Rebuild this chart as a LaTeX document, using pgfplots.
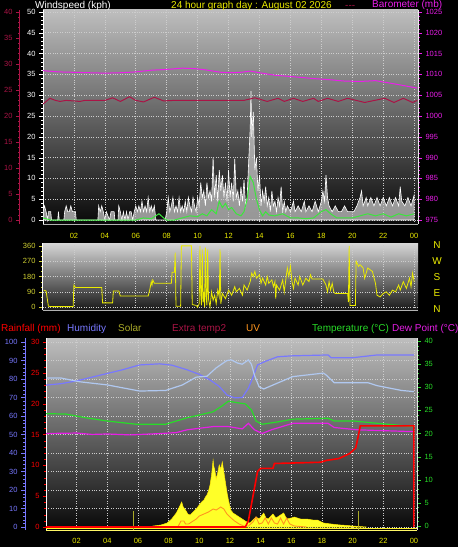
\documentclass[border=0pt]{standalone}
\usepackage{pgfplots}
\pgfplotsset{compat=1.18}
\usepackage{fontspec}
\setmainfont{Liberation Sans}
\definecolor{bgtop}{RGB}{190,190,190}
\definecolor{bgbot}{RGB}{8,8,8}
\definecolor{bgtopb}{RGB}{215,215,215}
\definecolor{bgbotb}{RGB}{25,25,25}
\definecolor{crim}{RGB}{170,20,70}
\definecolor{baro}{RGB}{235,30,235}
\definecolor{tyel}{RGB}{235,235,0}
\definecolor{tickyel}{RGB}{210,210,50}
\definecolor{humblue}{RGB}{120,120,255}
\definecolor{lblue}{RGB}{176,200,240}
\definecolor{tgreen}{RGB}{40,220,40}
\definecolor{dewmag}{RGB}{230,30,230}
\definecolor{solyel}{RGB}{255,255,40}
\definecolor{uvor}{RGB}{255,150,30}
\definecolor{olive2}{RGB}{170,170,40}
\definecolor{gridc}{RGB}{205,205,205}
\definecolor{windgr}{RGB}{60,230,60}

\pgfplotsset{
  base/.style={scale only axis, anchor=south west, xmin=0, xmax=24.25,
    /pgf/number format/assume math mode=true,
    /pgf/number format/1000 sep={},
    tick label style={font=\fontsize{7.5}{8}\selectfont},
    tick align=outside, major tick length=4pt, minor tick length=2pt},
  hidden/.style={base, hide axis},
  narrow/.style={base, width=1pt, xmin=0, xmax=1, axis x line=none, axis y line*=left},
}

\begin{document}
\begin{tikzpicture}
\fill[black] (0,0) rectangle (458pt,-547pt);
\path[use as bounding box] (0,0) rectangle (458pt,-547pt);

% ================= PANEL 1 =================
\begin{axis}[base, at={(43pt,-224pt)}, width=375pt, height=214pt,
  ymin=-0.96, ymax=50.48,
  axis background/.style={top color=bgtop, bottom color=bgbot},
  axis x line*=bottom, axis y line*=left,
  x axis line style={draw=gray!60, line width=1pt},
  y axis line style={draw=white, line width=1pt},
  xtick={2,4,...,24}, xticklabels={02,04,06,08,10,12,14,16,18,20,22,00},
  xticklabel style={text=tyel, yshift=-2pt}, x tick style={draw=none},
  ytick={0,5,...,50}, minor y tick num=4,
  yticklabel style={text=white}, y tick style={white},
  grid=major, grid style={draw=gridc, dotted, line width=0.6pt}]
% wind gusts
\addplot[draw=white, fill=gray!45!white, fill opacity=0.75, line width=0.6pt] coordinates {
(0,2)(0.1,3.4)(0.2,2)(0.3,0)(0.35,2)(0.5,2)(0.55,0)(0.95,0)(1.0,2)(1.05,0)(1.35,0)(1.4,2)(1.5,3.4)(1.6,2)(1.7,2)(1.8,3.4)(1.9,2)(2.1,2)(2.15,0)(3.55,0)(3.6,3.4)(3.7,2)(3.8,3.4)(3.9,2)(4.0,0)(4.1,2)(4.3,0)(4.4,2)(4.6,2)(4.65,0)(4.85,0)(4.9,3.4)(5.0,2)(5.1,0)(5.2,2)(5.3,0)(5.4,2)(5.5,0)(5.6,2)(5.7,2)(5.8,0)(5.9,2)(6.0,3.4)(6.1,2)(6.2,3.4)(6.3,2)(6.4,4.5)(6.5,2)(6.6,3.4)(6.7,2)(6.8,5.4)(6.9,2)(7.0,3.4)(7.1,2)(7.2,3.4)(7.3,0)(7.9,0)(8.0,2)(8.1,5.4)(8.2,2)(8.3,3.4)(8.4,5.4)(8.5,2)(8.6,3.4)(8.7,2)(8.8,5.4)(8.9,2)(9.0,3.4)(9.1,2)(9.2,4.5)(9.3,2)(9.4,5.4)(9.5,3.4)(9.6,2)(9.7,5.4)(9.8,3.4)(9.9,2)(10.0,5.4)(10.1,3.4)(10.2,9)(10.3,5.4)(10.4,7)(10.5,3.4)(10.6,9)(10.7,5.4)(10.8,7)(10.9,4.5)(11.0,15)(11.1,5.4)(11.2,10.8)(11.3,4.5)(11.4,12)(11.5,7)(11.6,10.8)(11.7,5.4)(11.8,9)(11.9,4.5)(12.0,12)(12.1,5.4)(12.2,9)(12.3,4.5)(12.4,14.7)(12.5,5.4)(12.6,7)(12.7,3.4)(12.8,8)(12.9,4.5)(13.0,9.6)(13.1,3.4)(13.2,5.4)(13.3,14)(13.4,22)(13.45,31)(13.5,20)(13.6,26)(13.7,12)(13.8,15)(13.9,7)(14.0,10.8)(14.1,3.4)(14.2,7)(14.3,4.5)(14.4,8)(14.5,3.4)(14.6,5.4)(14.7,2)(14.8,7)(14.9,3.4)(15.0,4.5)(15.1,2)(15.2,5.4)(15.3,3.4)(15.4,8)(15.5,2)(15.6,4.5)(15.7,2)(15.8,3.4)(16.0,2)(16.2,4.5)(16.3,2)(16.5,3.4)(16.7,2)(16.9,4.5)(17.0,2)(17.2,3.4)(17.4,2)(17.6,4.5)(17.8,2)(18.0,4.5)(18.1,7)(18.2,4.5)(18.3,10.8)(18.4,5.4)(18.5,3.4)(18.7,2)(18.9,3.4)(19.1,2)(19.3,2)(19.5,3.4)(19.7,2)(19.9,2)(20.1,2)(20.3,3.4)(20.5,5.4)(20.6,7)(20.7,3.4)(20.9,5.4)(21.0,3.4)(21.2,5.4)(21.4,3.4)(21.6,5.4)(21.8,3.4)(22.0,5.4)(22.2,3.4)(22.4,5.4)(22.6,3.4)(22.8,5.4)(23.0,3.4)(23.1,8)(23.2,4.5)(23.4,3.4)(23.6,5.4)(23.8,3.4)(24.0,6)(24.0,0)
} \closedcycle;
% average wind
\addplot[draw=windgr, line width=1pt] coordinates {
(0,0.5)(0.5,0)(6,0)(6.5,0.5)(7,0.3)(7.5,1.5)(7.8,0.5)(8.0,0)(8.5,0)(9,0.5)(9.5,1)(10,0.8)(10.3,1.5)(10.6,1)(10.9,2.5)(11.2,1.5)(11.4,4.5)(11.6,3)(11.8,4)(12.0,2.5)(12.2,3)(12.5,1.5)(12.8,1)(13.0,2)(13.2,5)(13.4,10.5)(13.6,9)(13.8,5)(14.0,2.5)(14.2,1)(14.4,2)(14.6,1.2)(15.0,1)(15.5,1.5)(16,0.5)(16.5,0.5)(17,0.3)(17.5,0.5)(18,2)(18.3,2.5)(18.6,1.5)(19,0.5)(20,0.5)(20.5,1)(21,1.5)(21.5,1)(22,1.5)(22.5,0.7)(23,1.5)(23.5,1)(24,1.5)
};
\end{axis}

% crimson outer axis (ticks only)
\begin{axis}[narrow, at={(20pt,-224pt)}, height=214pt, ymin=-0.77, ymax=40.38,
  y axis line style={draw=crim, line width=1pt},
  ytick={0,5,...,40}, minor y tick num=4, y tick style={crim}, yticklabel style={text=crim}]
\end{axis}
% crimson data
\begin{axis}[hidden, at={(43pt,-224pt)}, width=375pt, height=214pt, ymin=-0.77, ymax=40.38]
\addplot[draw=crim, line width=1pt] coordinates {
(0,22.3)(0.45,23.4)(0.8,23.0)(1.1,22.8)(1.5,23.0)(2.4,22.8)(2.7,23.0)(4.0,23.0)(4.5,23.5)(5.0,22.8)(5.6,23.7)(6.0,23.0)(6.5,22.7)(7.2,23.6)(7.8,22.9)(8.5,23.0)(13.0,23.0)(13.7,23.5)(14.5,22.8)(15.2,23.4)(15.6,22.8)(16.2,23.4)(16.8,22.8)(17.5,23.4)(17.8,22.8)(18.4,23.4)(19.1,22.8)(19.7,23.4)(20.8,22.6)(22.1,23.4)(22.7,22.6)(23.3,23.4)(23.9,22.6)(24.2,23.0)
};
\end{axis}
% barometer
\begin{axis}[base, at={(43pt,-224pt)}, width=375pt, height=214pt,
  ymin=974.04, ymax=1025.48, axis y line*=right, axis x line=none,
  y axis line style={draw=white!85!gray, line width=1pt},
  ytick={975,980,...,1025}, minor y tick num=4, y tick style={baro}, yticklabel style={text=baro}]
\addplot[draw=baro, line width=1pt] coordinates {
(0,1010.9)(1,1010.6)(2,1010.5)(3,1010.4)(4,1010.3)(5,1010.4)(6,1010.6)(7,1011.0)(8,1011.2)(9,1011.5)(9.8,1011.4)(10.5,1011.1)(11.5,1010.5)(12.2,1010.4)(12.8,1010.5)(13.4,1010.8)(14.0,1010.4)(15,1009.8)(16,1009.5)(16.6,1009.3)(17.5,1009.0)(18.6,1008.7)(19.5,1008.4)(20.5,1008.3)(21.5,1008.5)(22.3,1008.0)(23.2,1007.4)(24.2,1006.7)
};
\end{axis}

% titles panel 1
\node[anchor=base west, text=white, font=\fontsize{10}{12}\selectfont, inner sep=0] at (35pt,-8pt) {Windspeed (kph)};
\node[anchor=base west, text=tyel, font=\fontsize{10}{12}\selectfont, inner sep=0] at (171pt,-8pt) {24 hour graph day : August 02 2026};
\node[anchor=base west, text=crim, font=\fontsize{10}{12}\selectfont, inner sep=0] at (345pt,-8pt) {-{}-{}-};
\node[anchor=base west, text=baro, font=\fontsize{10}{12}\selectfont, inner sep=0] at (372pt,-7.5pt) {Barometer (mb)};

% ================= PANEL 2 =================
\begin{axis}[base, at={(43pt,-310pt)}, width=375pt, height=67pt,
  ymin=-17, ymax=377,
  axis background/.style={top color=bgtopb, bottom color=bgbotb},
  axis x line*=bottom, axis y line*=left,
  x axis line style={draw=gray!60, line width=1pt},
  y axis line style={draw=white, line width=1pt},
  xtick={2,4,...,24}, xticklabels={}, x tick style={draw=none},
  ytick={0,90,180,270,360}, minor y tick num=2,
  y tick style={tickyel}, yticklabel style={text=tickyel},
  grid=major, grid style={draw=gridc, dotted, line width=0.6pt}]
\addplot[draw=tyel, line width=0.8pt] coordinates {
(0.05,100)(0.2,95)(0.35,5)(0.6,3)(1.95,3)(2.0,130)(2.1,115)(3.8,115)(3.85,25)(4.5,25)(4.55,95)(4.9,95)(5.0,65)(6.8,65)(6.9,100)(7.0,150)(7.05,130)(7.1,160)(7.2,140)(8.3,140)(8.35,205)(8.5,205)(8.55,320)(8.6,5)(8.9,5)(8.95,360)(9.6,360)(9.65,15)(9.9,10)(10.0,0)(10.1,20)(10.15,360)(10.2,80)(10.25,10)(10.3,340)(10.35,30)(10.4,90)(10.45,0)(10.5,350)(10.55,60)(10.6,10)(10.65,340)(10.7,50)(10.8,0)(10.9,90)(11.0,40)(11.1,70)(11.2,20)(11.3,100)(11.4,60)(11.45,340)(11.5,20)(11.6,80)(11.8,50)(12.0,100)(12.2,70)(12.4,120)(12.5,90)(12.7,110)(12.9,70)(13.0,130)(13.2,100)(13.4,150)(13.5,200)(13.6,180)(13.7,210)(13.8,170)(14.0,190)(14.1,140)(14.2,170)(14.4,130)(14.5,180)(14.6,140)(14.8,160)(14.9,120)(15.0,150)(15.05,50)(15.1,130)(15.3,100)(15.5,160)(15.6,90)(15.8,230)(15.9,180)(16.0,240)(16.1,150)(16.2,110)(16.3,170)(16.5,130)(16.6,180)(16.8,130)(17.0,170)(17.2,150)(17.3,190)(17.4,165)(18.1,165)(18.3,130)(18.4,90)(18.5,150)(18.6,100)(18.7,140)(18.8,90)(18.9,80)(19.7,80)(19.75,30)(19.8,360)(19.85,10)(20.2,10)(20.25,270)(20.4,240)(20.5,250)(20.7,230)(20.8,170)(21.0,230)(21.3,210)(21.5,140)(21.6,70)(21.8,60)(22.0,80)(22.2,90)(22.4,70)(22.6,100)(22.8,90)(23.0,130)(23.1,100)(23.3,150)(23.5,110)(23.7,170)(23.8,120)(23.9,200)(24.0,150)
};
\end{axis}
\foreach \l/\y in {N/245,W/261,S/277,E/293,N/309}
  \node[text=tyel, font=\fontsize{10}{12}\selectfont] at (437pt,-\y pt) {\l};

% ================= PANEL 3 =================
\begin{axis}[base, at={(46pt,-530pt)}, width=371pt, height=192pt, xmax=24.2,
  ymin=-1.62, ymax=102.16,
  axis background/.style={top color=bgtop, bottom color=bgbot},
  axis x line*=bottom, axis y line*=left,
  x axis line style={draw=yellow!60!white, line width=1pt},
  y axis line style={draw=white, line width=1pt},
  xtick={2,4,...,24}, xticklabels={02,04,06,08,10,12,14,16,18,20,22,00},
  xticklabel style={text=tyel, yshift=-1pt}, x tick style={draw=none},
  ytick={0,10,...,100}, yticklabels={}, y tick style={draw=none},
  grid=major, grid style={draw=gridc, dotted, line width=0.6pt}]
\end{axis}
% humidity outer axis
\begin{axis}[narrow, at={(25pt,-530pt)}, height=192pt, ymin=-1.62, ymax=102.16,
  y axis line style={draw=humblue, line width=1pt},
  ytick={0,10,...,100}, minor y tick num=4, y tick style={humblue}, yticklabel style={text=humblue}]
\end{axis}
% solar
\begin{axis}[hidden, at={(46pt,-530pt)}, width=371pt, height=192pt, xmax=24.2, ymin=-15, ymax=945]
\addplot[draw=yellow!90!orange, fill=solyel, line width=0.5pt] coordinates {
(6.7,0)(7.0,5)(7.5,10)(7.9,20)(8.2,40)(8.5,70)(8.7,100)(8.85,125)(8.95,100)(9.1,85)(9.25,65)(9.4,60)(9.6,75)(9.8,90)(10.0,110)(10.15,125)(10.3,135)(10.4,150)(10.5,160)(10.6,180)(10.7,210)(10.8,260)(10.9,335)(10.95,300)(11.0,290)(11.1,240)(11.2,270)(11.3,310)(11.4,290)(11.5,325)(11.6,275)(11.7,225)(11.8,175)(11.9,135)(12.05,85)(12.2,70)(12.4,60)(12.6,50)(12.9,35)(13.1,25)(13.3,20)(13.5,35)(13.7,50)(13.9,40)(14.2,70)(14.35,45)(14.5,40)(14.8,65)(15.0,45)(15.1,50)(15.5,70)(15.7,40)(16.0,45)(16.2,50)(16.6,40)(17.0,40)(17.4,35)(17.7,35)(18.1,20)(18.6,15)(19.2,10)(19.6,8)(20.0,5)(20.9,0)
} \closedcycle;
\addplot[draw=yellow!85!white, line width=1.2pt] coordinates {(0,-9)(24.2,-9)};
\addplot[draw=olive2, line width=1pt] coordinates {(5.7,-15)(5.7,80)};
\addplot[draw=olive2, line width=1pt] coordinates {(20.4,-15)(20.4,80)};
\end{axis}
% UV
\begin{axis}[hidden, at={(46pt,-530pt)}, width=371pt, height=192pt, xmax=24.2, ymin=-0.3, ymax=18.9]
\addplot[draw=uvor, line width=0.9pt] coordinates {
(8.6,0)(8.7,0.3)(8.8,0.6)(9.0,0.6)(9.1,0.3)(9.3,0.3)(9.5,0.5)(9.8,0.8)(10.0,1.1)(10.3,1.3)(10.6,1.5)(10.9,1.8)(11.1,1.7)(11.4,2.0)(11.6,1.8)(11.8,1.3)(12.0,1.0)(12.3,0.6)(12.6,0.3)(12.9,0.1)(13.2,0.1)(13.5,0.5)(13.7,1.0)(13.9,0.3)(14.1,0.4)(14.3,0.9)(14.5,0.3)(14.7,0.9)(14.9,0.4)(15.1,0.3)(15.3,0.9)(15.5,0.3)(15.7,0.9)(15.9,0.3)(16.2,0.1)(17,0)
};
\end{axis}
% humidity data
\begin{axis}[hidden, at={(46pt,-530pt)}, width=371pt, height=192pt, xmax=24.2, ymin=-1.62, ymax=102.16]
\addplot[draw=humblue, line width=1.2pt] coordinates {
(0,76.7)(1,77.5)(2,79)(3.5,82)(5,85)(6.1,87.6)(7.4,88.2)(8.2,87.5)(9.2,85)(10,82.5)(10.7,79.5)(11.3,76)(11.8,71.4)(12.3,69.8)(12.8,70)(13.2,75)(13.5,81)(13.8,87.6)(14.3,89.5)(15.1,92)(16,92.5)(18.4,93)(18.6,91.5)(20,91.5)(21.6,93)(24,93)
};
\addplot[draw=lblue, line width=1.2pt] coordinates {
(0,80.5)(1.0,80.5)(2.2,78.5)(4.0,76.8)(6.1,73.5)(7.8,73.8)(8.9,76.8)(9.8,81)(10.5,81.5)(11.1,86)(11.8,90)(12.1,90.3)(12.5,88.6)(12.8,88)(13.2,90.3)(13.4,88)(13.6,82)(13.9,75.8)(14.2,74.6)(15.1,77.8)(16.1,81.3)(18.1,83.2)(18.3,82)(18.8,78)(21,78)(21.6,76.4)(23.2,73.8)(24,73.2)
};
\end{axis}
% temperature (right axis)
\begin{axis}[base, at={(46pt,-530pt)}, width=371pt, height=192pt, xmax=24.2,
  ymin=-0.865, ymax=40.65, axis y line*=right, axis x line=none,
  y axis line style={draw=white!80!gray, line width=1pt},
  ytick={0,5,...,40}, minor y tick num=4, y tick style={tgreen}, yticklabel style={text=tgreen}]
\addplot[draw=tgreen, line width=1.2pt] coordinates {
(0,24.3)(1.3,24.2)(2.6,23.4)(4.0,22.7)(5.9,22.0)(7.8,22.0)(9.2,23.4)(10.0,24)(10.9,24.7)(11.5,26)(11.9,27)(12.4,26.7)(13.0,26.4)(13.4,25.1)(13.7,22.7)(14.1,22.0)(15.1,22.5)(16.1,23.1)(18.4,23.3)(18.8,22.7)(20.1,22.7)(21.3,22.3)(24,21.5)
};
\addplot[draw=dewmag, line width=1.2pt] coordinates {
(0,20.0)(2,20.1)(3,19.8)(4,19.9)(5.5,19.7)(7.5,20.0)(8.5,20.2)(9.2,20.8)(10.9,21.5)(11.9,21.5)(12.8,21)(13.2,22.2)(13.6,20.8)(14.1,20.0)(14.7,20.8)(16.1,22.2)(18.4,22.2)(18.8,21.3)(20.3,20.8)(24,20.4)
};
\end{axis}
% rainfall (inner left axis + data on top)
\begin{axis}[base, at={(46pt,-530pt)}, width=371pt, height=192pt, xmax=24.2,
  ymin=-0.486, ymax=30.65, axis y line*=left, axis x line=none,
  y axis line style={draw=none}, major tick length=3pt, minor tick length=1.5pt,
  ytick={0,5,...,30}, minor y tick num=4, y tick style={red}, yticklabel style={text=red}]
\addplot[draw=red, line width=1.6pt] coordinates {
(0,0)(13.0,0)(13.2,1)(13.5,5)(13.8,9)(14.0,9.5)(14.8,9.5)(14.9,10.3)(17.9,10.5)(18.3,10.8)(19.1,11.1)(19.8,11.9)(20.2,12.8)(20.35,14.5)(20.5,16.4)(24.0,16.4)(24.0,0)
};
\end{axis}

% legend row panel 3
\node[anchor=base west, text=red, font=\fontsize{10}{12}\selectfont, inner sep=0] at (1pt,-331pt) {Rainfall (mm)};
\node[anchor=base west, text=humblue, font=\fontsize{10}{12}\selectfont, inner sep=0] at (67pt,-331pt) {Humidity};
\node[anchor=base west, text=olive2, font=\fontsize{10}{12}\selectfont, inner sep=0] at (118pt,-331pt) {Solar};
\node[anchor=base west, text=crim, font=\fontsize{10}{12}\selectfont, inner sep=0] at (172pt,-331pt) {Extra temp2};
\node[anchor=base west, text=uvor, font=\fontsize{10}{12}\selectfont, inner sep=0] at (246pt,-331pt) {UV};
\node[anchor=base west, text=tgreen, font=\fontsize{10}{12}\selectfont, inner sep=0] at (312pt,-331pt) {Temperature (°C)};
\node[anchor=base west, text=dewmag, font=\fontsize{10}{12}\selectfont, inner sep=0] at (392pt,-331pt) {Dew Point (°C)};
\end{tikzpicture}
\end{document}
